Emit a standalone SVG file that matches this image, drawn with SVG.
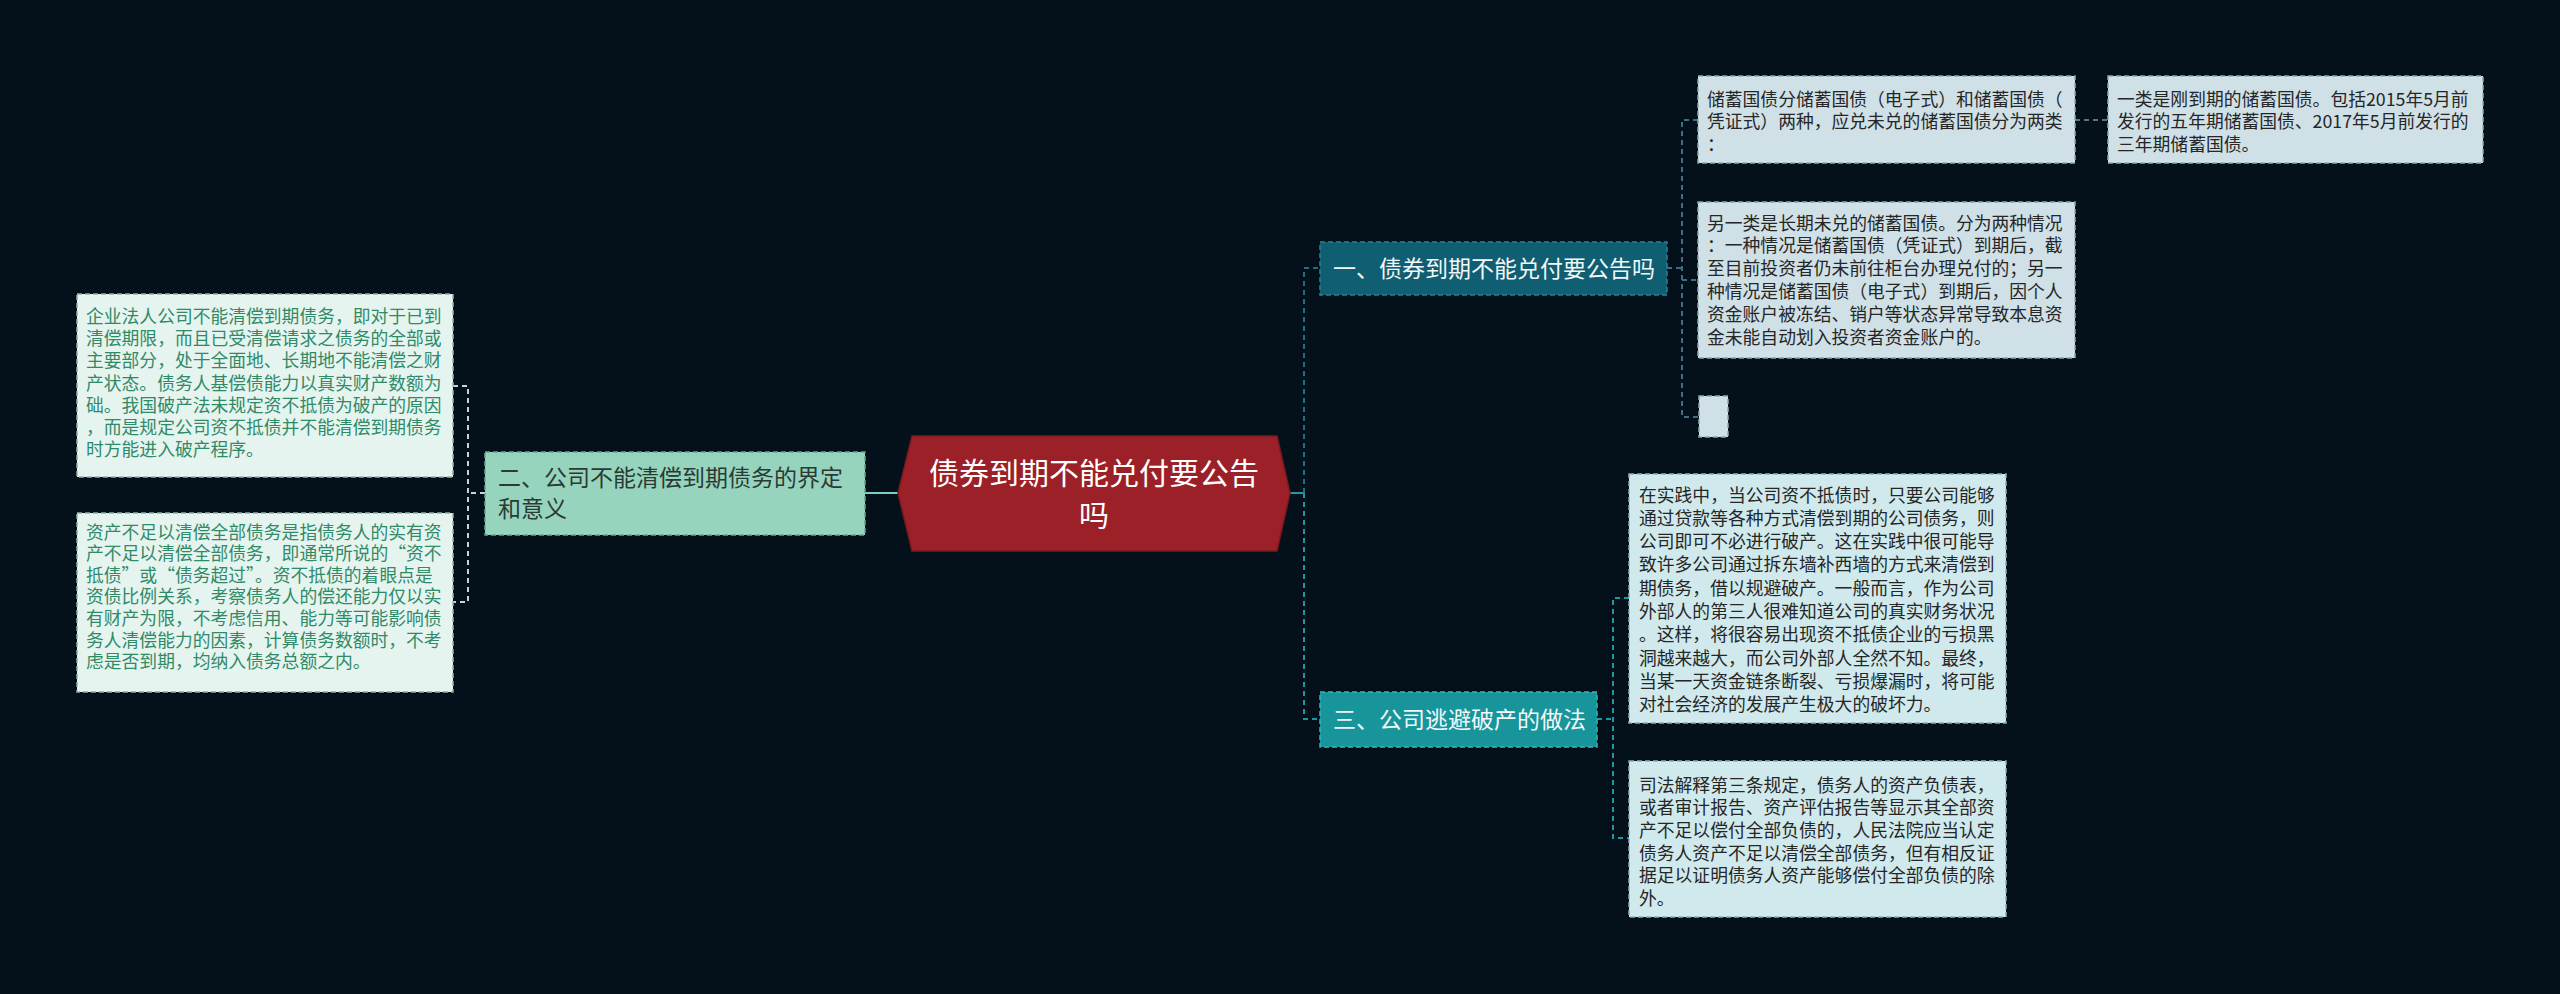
<svg xmlns="http://www.w3.org/2000/svg" width="2560" height="994" viewBox="0 0 2560 994">
<style>
text{font-family:"Noto Sans CJK SC","Noto Sans",sans-serif;}
.leaf{font-size:17.8px;fill:#262626;}
.gleaf{font-size:17.8px;fill:#2f8a68;}
.main{font-size:23px;}
.cn{fill:none;stroke-width:2;stroke-dasharray:5 4;}
.bx{stroke-width:1.5;stroke-dasharray:5 3;}
</style>
<rect x="0" y="0" width="2560" height="994" fill="#04111a"/>
<g id="connectors">
<line x1="865" y1="493" x2="898" y2="493" stroke="#7ecfc0" stroke-width="2"/>
<path class="cn" stroke="#c9d3d3" d="M485,493 H468 M453,386 H468 V602 H453"/>
<line x1="1290" y1="493" x2="1304" y2="493" stroke="#1f9aa3" stroke-width="2"/>
<path class="cn" stroke="#1f6f87" d="M1304,493 V268 H1320"/>
<path class="cn" stroke="#1a9aa0" d="M1304,493 V719 H1320"/>
<path class="cn" stroke="#3d6e82" d="M1667,268 H1682 M1698,120 H1682 V417 H1698 M1682,280 H1698"/>
<path class="cn" stroke="#5a7580" d="M2075,120 H2108"/>
<path class="cn" stroke="#1a9aa0" d="M1597,719 H1613 M1629,598 H1613 V838 H1629"/>
</g>
<g id="center">
<polygon points="912,436 1277,436 1290,493 1277,551 912,551 898,493" fill="#9c2027" stroke="#7a1a20" stroke-width="1.5"/>
<text x="1094" y="484" font-size="30" fill="#ffffff" text-anchor="middle">债券到期不能兑付要公告</text>
<text x="1094" y="526" font-size="30" fill="#ffffff" text-anchor="middle">吗</text>
</g>
<g id="node2">
<rect class="bx" x="485" y="452" width="380" height="83" fill="#97d4bd" stroke="#5fa88e"/>
<text class="main" x="498" y="486" fill="#2a3a35">二、公司不能清偿到期债务的界定</text>
<text class="main" x="498" y="517" fill="#2a3a35">和意义</text>
</g>
<g id="leafL1">
<rect class="bx" x="77" y="294" width="376" height="183" fill="#e6f4ef" stroke="#8fb0a5"/>
<text class="gleaf" x="86" y="323">企业法人公司不能清偿到期债务，即对于已到</text>
<text class="gleaf" x="86" y="345.2">清偿期限，而且已受清偿请求之债务的全部或</text>
<text class="gleaf" x="86" y="367.4">主要部分，处于全面地、长期地不能清偿之财</text>
<text class="gleaf" x="86" y="389.6">产状态。债务人基偿债能力以真实财产数额为</text>
<text class="gleaf" x="86" y="411.8">础。我国破产法未规定资不抵债为破产的原因</text>
<text class="gleaf" x="86" y="434">，而是规定公司资不抵债并不能清偿到期债务</text>
<text class="gleaf" x="86" y="456.2">时方能进入破产程序。</text>
</g>
<g id="leafL2">
<rect class="bx" x="77" y="513" width="376" height="179" fill="#e6f4ef" stroke="#8fb0a5"/>
<text class="gleaf" x="86" y="538.5">资产不足以清偿全部债务是指债务人的实有资</text>
<text class="gleaf" x="86" y="560.1">产不足以清偿全部债务，即通常所说的“资不</text>
<text class="gleaf" x="86" y="581.7">抵债”或“债务超过”。资不抵债的着眼点是</text>
<text class="gleaf" x="86" y="603.3">资债比例关系，考察债务人的偿还能力仅以实</text>
<text class="gleaf" x="86" y="624.9">有财产为限，不考虑信用、能力等可能影响债</text>
<text class="gleaf" x="86" y="646.5">务人清偿能力的因素，计算债务数额时，不考</text>
<text class="gleaf" x="86" y="668.1">虑是否到期，均纳入债务总额之内。</text>
</g>
<g id="node1">
<rect class="bx" x="1320" y="242" width="347" height="53" fill="#0f5e72" stroke="#2c7f93"/>
<text class="main" x="1333" y="277" fill="#f2f7f8">一、债券到期不能兑付要公告吗</text>
</g>
<g id="node3">
<rect class="bx" x="1320" y="692" width="277" height="55" fill="#17959b" stroke="#3fb0b5"/>
<text class="main" x="1333" y="728" fill="#f2f7f8">三、公司逃避破产的做法</text>
</g>
<g id="leafC1">
<rect class="bx" x="1698" y="76" width="377" height="87" fill="#cfe0e6" stroke="#8fa9b3"/>
<text class="leaf" x="1707" y="105.5">储蓄国债分储蓄国债（电子式）和储蓄国债（</text>
<text class="leaf" x="1707" y="128">凭证式）两种，应兑未兑的储蓄国债分为两类</text>
<text class="leaf" x="1707" y="150.5">：</text>
</g>
<g id="leafC1a">
<rect class="bx" x="2108" y="76" width="375" height="87" fill="#cfe0e6" stroke="#8fa9b3"/>
<text class="leaf" x="2117" y="105.5">一类是刚到期的储蓄国债。包括2015年5月前</text>
<text class="leaf" x="2117" y="128">发行的五年期储蓄国债、2017年5月前发行的</text>
<text class="leaf" x="2117" y="150.5">三年期储蓄国债。</text>
</g>
<g id="leafC2">
<rect class="bx" x="1698" y="202" width="377" height="156" fill="#cfe0e6" stroke="#8fa9b3"/>
<text class="leaf" x="1707" y="229.5">另一类是长期未兑的储蓄国债。分为两种情况</text>
<text class="leaf" x="1707" y="252.3">：一种情况是储蓄国债（凭证式）到期后，截</text>
<text class="leaf" x="1707" y="275.1">至目前投资者仍未前往柜台办理兑付的；另一</text>
<text class="leaf" x="1707" y="297.9">种情况是储蓄国债（电子式）到期后，因个人</text>
<text class="leaf" x="1707" y="320.7">资金账户被冻结、销户等状态异常导致本息资</text>
<text class="leaf" x="1707" y="343.5">金未能自动划入投资者资金账户的。</text>
</g>
<g id="leafC3">
<rect class="bx" x="1699" y="396" width="29" height="41" fill="#cfe0e6" stroke="#8fa9b3"/>
</g>
<g id="leafD1">
<rect class="bx" x="1629" y="474" width="377" height="249" fill="#d0e9ec" stroke="#8fb0b5"/>
<text class="leaf" x="1639" y="501.5">在实践中，当公司资不抵债时，只要公司能够</text>
<text class="leaf" x="1639" y="524.8">通过贷款等各种方式清偿到期的公司债务，则</text>
<text class="leaf" x="1639" y="548.1">公司即可不必进行破产。这在实践中很可能导</text>
<text class="leaf" x="1639" y="571.4">致许多公司通过拆东墙补西墙的方式来清偿到</text>
<text class="leaf" x="1639" y="594.7">期债务，借以规避破产。一般而言，作为公司</text>
<text class="leaf" x="1639" y="618">外部人的第三人很难知道公司的真实财务状况</text>
<text class="leaf" x="1639" y="641.3">。这样，将很容易出现资不抵债企业的亏损黑</text>
<text class="leaf" x="1639" y="664.6">洞越来越大，而公司外部人全然不知。最终，</text>
<text class="leaf" x="1639" y="687.9">当某一天资金链条断裂、亏损爆漏时，将可能</text>
<text class="leaf" x="1639" y="711.2">对社会经济的发展产生极大的破坏力。</text>
</g>
<g id="leafD2">
<rect class="bx" x="1629" y="761" width="377" height="156" fill="#d0e9ec" stroke="#8fb0b5"/>
<text class="leaf" x="1639" y="791.5">司法解释第三条规定，债务人的资产负债表，</text>
<text class="leaf" x="1639" y="814.2">或者审计报告、资产评估报告等显示其全部资</text>
<text class="leaf" x="1639" y="836.9">产不足以偿付全部负债的，人民法院应当认定</text>
<text class="leaf" x="1639" y="859.6">债务人资产不足以清偿全部债务，但有相反证</text>
<text class="leaf" x="1639" y="882.3">据足以证明债务人资产能够偿付全部负债的除</text>
<text class="leaf" x="1639" y="905">外。</text>
</g>
</svg>
